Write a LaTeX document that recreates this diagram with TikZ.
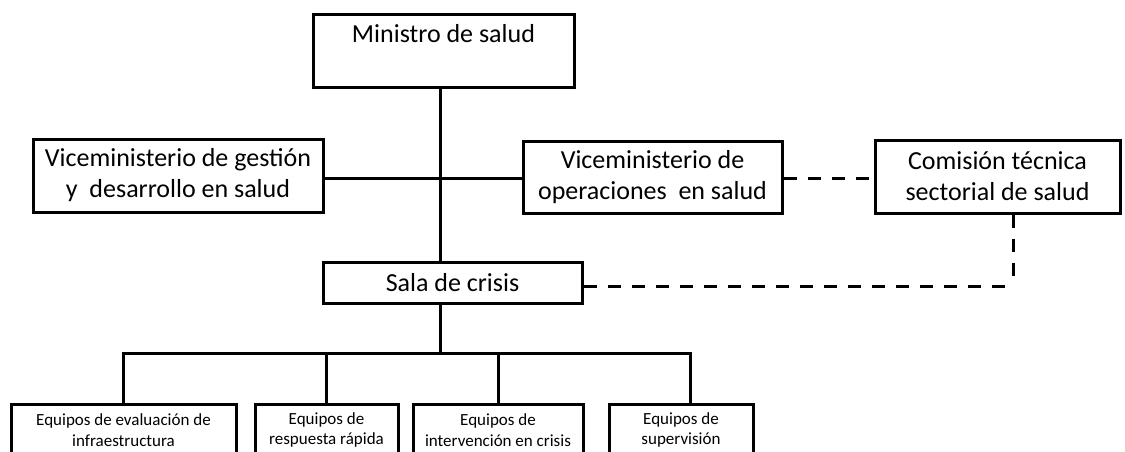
\documentclass[tikz,border=0pt]{standalone}
\usepackage{fontspec}
\setmainfont{Carlito}
\usetikzlibrary{calc}

\begin{document}
\begin{tikzpicture}[x=1pt,y=-1pt]
    \tikzstyle{box}=[draw,line width=3pt,inner sep=0pt,align=center,font=\fontsize{26}{31}\selectfont]
    \tikzstyle{team}=[box,font=\fontsize{17}{20.5}\selectfont]
    \tikzstyle{link}=[line width=3pt]
    \tikzstyle{dlink}=[line width=3pt,dash pattern=on 13pt off 11pt]

    \clip (0,0) rectangle (1125,451);

    % top of the chart
    \node[box,minimum width=261pt,text height=28pt,text depth=45pt] (min) at (443.5,13) [anchor=north] {Ministro de salud};
    \node[box,minimum width=290pt,minimum height=73pt] (vg) at (178,175.5) {Viceministerio de gestión\\ y\ \ desarrollo en salud};
    \node[box,minimum width=259pt,minimum height=72pt] (vo) at (652.5,177) {Viceministerio de\\operaciones\ \ en salud};
    \node[box,minimum width=245pt,minimum height=73pt] (com) at (997.5,176.5) {Comisión técnica\\sectorial de salud};
    \node[box,minimum width=259pt,minimum height=41pt] (sala) at (452.5,282.5) {Sala de crisis};

    % teams
    \node[team,minimum width=225pt,minimum height=52pt] (b1) at (123.5,430) {Equipos de evaluación de\\infraestructura};
    \node[team,minimum width=143pt,minimum height=52pt] (b2) at (326.5,430) {Equipos de\\respuesta rápida};
    \node[team,minimum width=170pt,minimum height=52pt] (b3) at (498,430) {Equipos de\\intervención en crisis};
    \node[team,minimum width=144pt,minimum height=52pt] (b4) at (681,430) {Equipos de\\supervisión};

    % helper points
    \coordinate (trunk) at (440,178);
    \coordinate (bus) at (440,353);
    \coordinate (drop4) at (690,353);
    \coordinate (corner) at (1013,286);

    % solid lines
    \draw[link] (min.south -| trunk) -- (sala.north -| trunk);
    \draw[link] (vg.east |- trunk) -- (vo.west |- trunk);
    \draw[link] (sala.south -| trunk) -- (bus);
    \draw[link] (b1.north) -- (b1.north |- bus) -- (drop4) -- (b4.north -| drop4);
    \draw[link] (b2.north |- bus) -- (b2.north);
    \draw[link] (b3.north |- bus) -- (b3.north);

    % dashed lines
    \draw[dlink] (vo.east |- trunk) -- (com.west |- trunk);
    \draw[dlink] (com.south -| corner) -- (corner);
    \draw[dlink] (sala.east |- corner) -- (corner);
\end{tikzpicture}
\end{document}
